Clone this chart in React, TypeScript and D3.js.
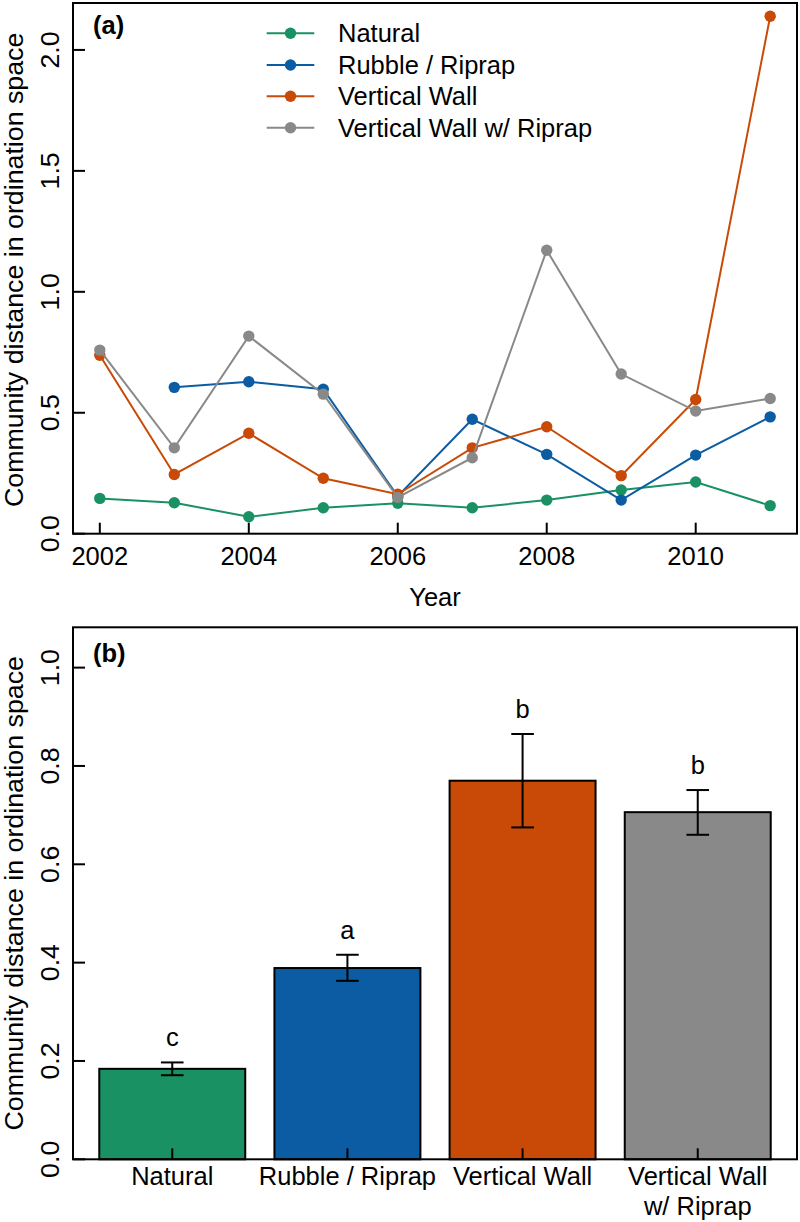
import React from "react";
import * as d3 from "d3";

const years = [2002, 2003, 2004, 2005, 2006, 2007, 2008, 2009, 2010, 2011];
const seriesNames = ["Natural", "Rubble / Riprap", "Vertical Wall", "Vertical Wall w/ Riprap"];
const colors = ["#1a9162", "#0c5ca4", "#c84a06", "#898989"];
const naturalVals = [0.146, 0.128, 0.07, 0.107, 0.126, 0.107, 0.139, 0.181, 0.214, 0.116];
const rubbleVals = [null, 0.605, 0.628, 0.597, 0.155, 0.473, 0.328, 0.139, 0.325, 0.483];
const wallVals = [0.738, 0.245, 0.415, 0.229, 0.163, 0.355, 0.442, 0.24, 0.555, 2.139];
const wallRipVals = [0.759, 0.355, 0.817, 0.577, 0.15, 0.314, 1.172, 0.66, 0.507, 0.559];
const yTicksA = [0, 0.5, 1, 1.5, 2];
const xTicksA = [2002, 2004, 2006, 2008, 2010];

const barCats = ["Natural", "Rubble / Riprap", "Vertical Wall", "Vertical Wall w/ Riprap"];
const barLabelLines = [["Natural"], ["Rubble / Riprap"], ["Vertical Wall"], ["Vertical Wall", "w/ Riprap"]];
const barMeans = [0.184, 0.389, 0.77, 0.706];
const barUpper = [0.197, 0.416, 0.865, 0.751];
const barLower = [0.171, 0.363, 0.675, 0.66];
const barLetters = ["c", "a", "b", "b"];
const yTicksB = [0, 0.2, 0.4, 0.6, 0.8, 1.0];

const FONT = "'Liberation Sans', Arial, sans-serif";
const FS = 25.5;
const ROT_STRETCH = 1.05;

export default function App() {
  const left = 73, right = 797;
  // Panel A
  const aTop = 3, aBottom = 533.7;
  const xA = d3.scaleLinear().domain([2001.64, 2011.36]).range([left, right]);
  const yA = d3.scaleLinear().domain([0, 2.194]).range([aBottom, aTop]);
  const allSeries = [naturalVals, rubbleVals, wallVals, wallRipVals];
  const line = d3
    .line<number | null>()
    .defined((d) => d !== null)
    .x((_, i) => xA(years[i]))
    .y((d) => yA(d as number));

  // Panel B
  const bTop = 627.3, bBottom = 1159.3;
  const xB = d3.scaleBand<string>().domain(barCats).range([left, right]).paddingInner(1 / 6).paddingOuter(0.15);
  const yB = d3.scaleLinear().domain([0, 1.082]).range([bBottom, bTop]);
  const bw = xB.bandwidth();

  const legendY = [33.3, 65, 96.3, 127.7];
  const titleX = 23;

  return (
    <svg width={800} height={1222} style={{ position: "absolute", left: 0, top: 0, background: "#fff" }} fontFamily={FONT}>
      <rect x={0} y={0} width={800} height={1222} fill="#fff" />
      {/* ===== Panel A ===== */}
      {allSeries.map((s, k) => (
        <g key={k}>
          <path d={line(s) || ""} fill="none" stroke={colors[k]} strokeWidth={2} />
          {s.map((v, i) =>
            v === null ? null : <circle key={i} cx={xA(years[i])} cy={yA(v)} r={5.7} fill={colors[k]} />
          )}
        </g>
      ))}
      <rect x={left} y={aTop} width={right - left} height={aBottom - aTop} fill="none" stroke="#000" strokeWidth={2} />
      {yTicksA.map((t) => (
        <g key={t}>
          <line x1={left} x2={left + 12} y1={yA(t)} y2={yA(t)} stroke="#000" strokeWidth={2} />
          <text transform={`translate(58.5,${yA(t)}) rotate(-90) scale(${ROT_STRETCH},1)`} textAnchor="middle" fontSize={FS}>
            {t.toFixed(1)}
          </text>
        </g>
      ))}
      {xTicksA.map((t) => (
        <g key={t}>
          <line x1={xA(t)} x2={xA(t)} y1={aBottom} y2={aBottom - 11} stroke="#000" strokeWidth={2} />
          <text x={xA(t)} y={565} textAnchor="middle" fontSize={FS}>
            {t}
          </text>
        </g>
      ))}
      <text x={(left + right) / 2} y={606} textAnchor="middle" fontSize={FS}>
        Year
      </text>
      <text transform={`translate(${titleX},${(aTop + aBottom) / 2 + 1.5}) rotate(-90) scale(${ROT_STRETCH},1)`} textAnchor="middle" fontSize={FS}>
        Community distance in ordination space
      </text>
      <text x={93} y={34} fontSize={FS} fontWeight="bold">
        (a)
      </text>
      {seriesNames.map((n, k) => (
        <g key={n}>
          <line x1={266.7} x2={314.3} y1={legendY[k]} y2={legendY[k]} stroke={colors[k]} strokeWidth={2} />
          <circle cx={290.5} cy={legendY[k]} r={5.7} fill={colors[k]} />
          <text x={338} y={legendY[k]} dy="0.35em" fontSize={FS}>
            {n}
          </text>
        </g>
      ))}

      {/* ===== Panel B ===== */}
      {barCats.map((c, i) => {
        const x0 = xB(c) as number;
        const cx = x0 + bw / 2;
        return (
          <g key={c}>
            <rect x={x0} y={yB(barMeans[i])} width={bw} height={bBottom - yB(barMeans[i])} fill={colors[i]} stroke="#000" strokeWidth={2} />
            <line x1={cx} x2={cx} y1={bBottom} y2={bBottom - 11} stroke="#000" strokeWidth={2} />
            <line x1={cx} x2={cx} y1={yB(barUpper[i])} y2={yB(barLower[i])} stroke="#000" strokeWidth={2} />
            <line x1={cx - 11.3} x2={cx + 11.3} y1={yB(barUpper[i])} y2={yB(barUpper[i])} stroke="#000" strokeWidth={2} />
            <line x1={cx - 11.3} x2={cx + 11.3} y1={yB(barLower[i])} y2={yB(barLower[i])} stroke="#000" strokeWidth={2} />
            <text x={cx} y={yB(barUpper[i]) - 16} textAnchor="middle" fontSize={FS}>
              {barLetters[i]}
            </text>
            {barLabelLines[i].map((ln, j) => (
              <text key={j} x={cx} y={1185 + j * 30} textAnchor="middle" fontSize={FS}>
                {ln}
              </text>
            ))}
          </g>
        );
      })}
      <rect x={left} y={bTop} width={right - left} height={bBottom - bTop} fill="none" stroke="#000" strokeWidth={2} />
      {yTicksB.map((t) => (
        <g key={t}>
          <line x1={left} x2={left + 12} y1={yB(t)} y2={yB(t)} stroke="#000" strokeWidth={2} />
          <text transform={`translate(58.5,${yB(t)}) rotate(-90) scale(${ROT_STRETCH},1)`} textAnchor="middle" fontSize={FS}>
            {t.toFixed(1)}
          </text>
        </g>
      ))}
      <text transform={`translate(${titleX},${(bTop + bBottom) / 2}) rotate(-90) scale(${ROT_STRETCH},1)`} textAnchor="middle" fontSize={FS}>
        Community distance in ordination space
      </text>
      <text x={93} y={662} fontSize={FS} fontWeight="bold">
        (b)
      </text>
    </svg>
  );
}
